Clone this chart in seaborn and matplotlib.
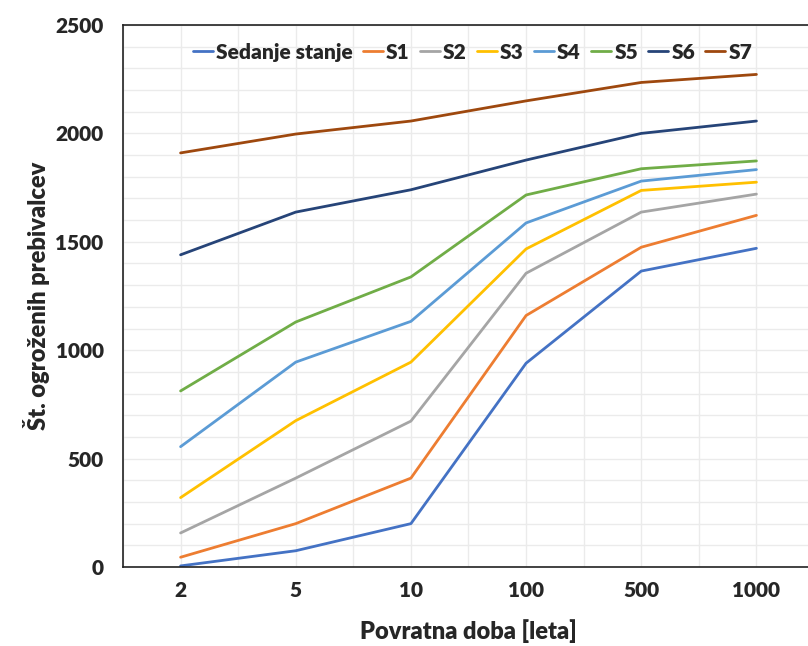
import pandas as pd
import numpy as np
import seaborn as sns
import matplotlib.pyplot as plt
from matplotlib.ticker import MultipleLocator

# Podatki (odčitani z grafa)
povratne_dobe = ['2', '5', '10', '100', '500', '1000']
serije = ['Sedanje stanje', 'S1', 'S2', 'S3', 'S4', 'S5', 'S6', 'S7']
sedanje = [5, 75, 200, 940, 1365, 1470]
s1 = [45, 200, 410, 1160, 1475, 1622]
s2 = [157, 410, 673, 1355, 1637, 1720]
s3 = [320, 675, 945, 1467, 1737, 1775]
s4 = [555, 945, 1133, 1587, 1780, 1833]
s5 = [812, 1130, 1338, 1716, 1837, 1873]
s6 = [1440, 1637, 1740, 1877, 2000, 2057]
s7 = [1910, 1997, 2057, 2150, 2235, 2272]
barve = ['#4472C4', '#ED7D31', '#A5A5A5', '#FFC000', '#5B9BD5', '#70AD47', '#264478', '#9E480E']

vrednosti = [sedanje, s1, s2, s3, s4, s5, s6, s7]
df = pd.DataFrame({
    'serija': np.repeat(serije, len(povratne_dobe)),
    'poz': np.tile(np.arange(len(povratne_dobe)), len(serije)),
    'vrednost': np.concatenate(vrednosti),
})

sns.set_style('white')
plt.rcParams['font.family'] = ['Lato', 'DejaVu Sans']
plt.rcParams['font.weight'] = 'heavy'

fig = plt.figure(figsize=(8.08, 6.46), dpi=100)
ax = fig.add_axes([123 / 808, 79 / 646, 691 / 808, 542 / 646])

sns.lineplot(data=df, x='poz', y='vrednost', hue='serija', hue_order=serije,
             palette=barve, linewidth=2, sort=False, ax=ax)

ax.set_xlim(-0.5, len(povratne_dobe) - 0.5)
ax.set_ylim(0, 2500)
ax.set_xticks(range(len(povratne_dobe)))
ax.set_xticklabels(povratne_dobe)
ax.xaxis.set_minor_locator(MultipleLocator(0.5))
ax.yaxis.set_major_locator(MultipleLocator(500))
ax.yaxis.set_minor_locator(MultipleLocator(100))
ax.grid(which='both', color='#ebebeb', linewidth=1)
ax.set_axisbelow(True)
ax.tick_params(axis='x', which='both', length=0, labelsize=15, pad=10)
ax.tick_params(axis='y', which='major', length=8, width=1, color='#7f7f7f',
               labelsize=15, pad=6)
ax.tick_params(axis='y', which='minor', length=0)
for s in ax.spines.values():
    s.set_color('#222222')
    s.set_linewidth(1.2)

ax.set_xlabel('Povratna doba [leta]', fontsize=17, fontweight='heavy', labelpad=14)
ax.set_ylabel('Št. ogroženih prebivalcev', fontsize=17, fontweight='heavy', labelpad=4)

ax.legend(loc='center', bbox_to_anchor=(0.506, 0.95), ncol=8, frameon=False,
          handlelength=0.95, handletextpad=0.15, columnspacing=0.5,
          prop={'weight': 'heavy', 'size': 15})

fig.savefig('out.png', dpi=100)
